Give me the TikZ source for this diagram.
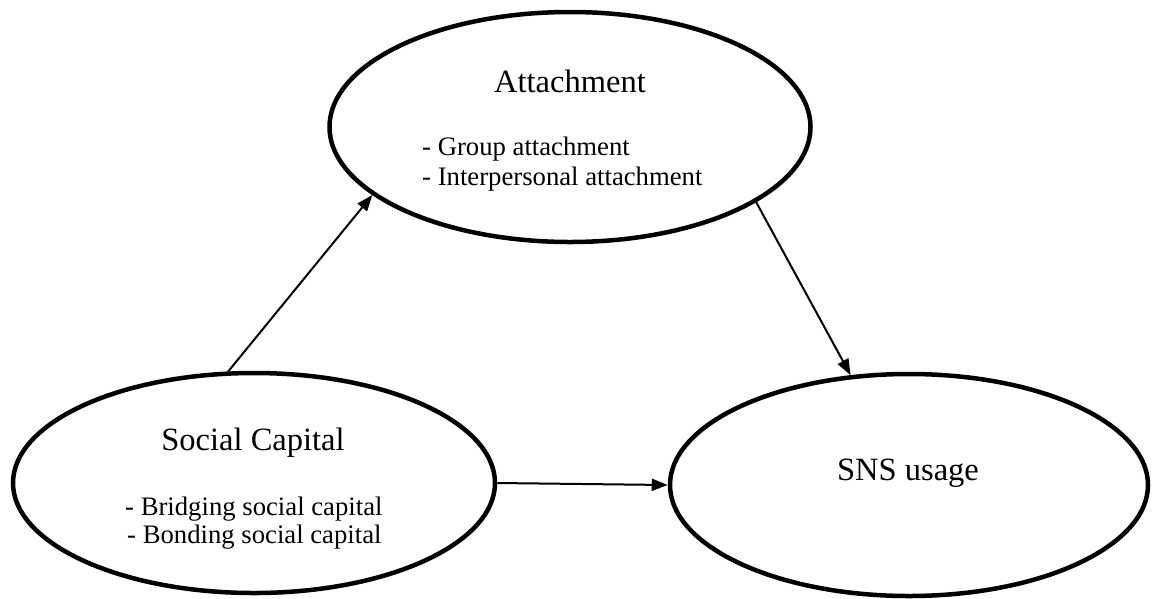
\documentclass[tikz,border=0pt]{standalone}
\usepackage{fontspec}
\setmainfont{Liberation Serif}
\usetikzlibrary{shapes.geometric,arrows.meta}
\begin{document}
\begin{tikzpicture}[x=1pt,y=-1pt,
  oval/.style={draw,ellipse,line width=4.5pt,inner sep=0pt},
  title/.style={anchor=base,inner sep=0pt,font=\fontsize{32.5}{36}\selectfont},
  item/.style={anchor=base west,inner sep=0pt,font=\fontsize{26.7}{30}\selectfont},
  link/.style={line width=2pt,-{Triangle[length=16pt,width=12pt]},shorten <=0pt}]
\useasboundingbox (0,0) rectangle (1153,598);
\node[oval,minimum width=481pt,minimum height=230pt] (att) at (570,127) {};
\node[oval,minimum width=482pt,minimum height=220pt] (sc) at (254,483) {};
\node[oval,minimum width=478pt,minimum height=222pt] (sns) at (909,485) {};
\node[title] (attT) at (570,92) {Attachment};
\node[item] (att1) at (422,155) {- Group attachment};
\node[item] (att2) at (422,185) {- Interpersonal attachment};
\node[title] (scT) at (253,450) {Social Capital};
\node[item] (sc1) at (125,515) {- Bridging social capital};
\node[item] (sc2) at (127,543) {- Bonding social capital};
\node[title] (snsT) at (908,480) {SNS usage};
\draw[link] (sc.103) -- (att.199);
\draw[link] (att.338.5) -- (sns.118.6);
\draw[link] (sc.0) -- (sns.180);
\end{tikzpicture}
\end{document}
